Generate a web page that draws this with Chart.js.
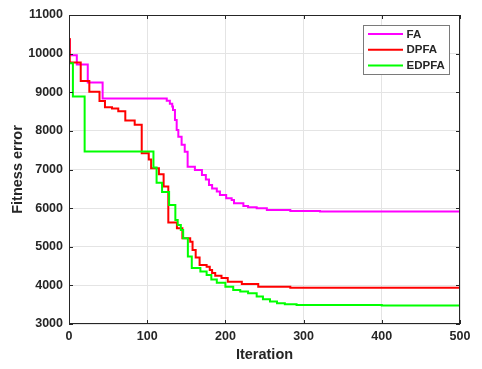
<!DOCTYPE html>
<html>
<head>
<meta charset="utf-8">
<script src="https://cdn.jsdelivr.net/npm/chart.js@4.4.0/dist/chart.umd.min.js"></script>
<style>
  html, body { margin: 0; padding: 0; background: #fff; }
  #wrap { width: 482px; height: 369px; }
</style>
</head>
<body>
<div id="wrap"><canvas id="fitnessChart" width="482" height="369"></canvas></div>
<script>
// Fitness error vs iteration

const seriesNames = ['FA', 'DPFA', 'EDPFA'];
const seriesColors = ['#ff00ff', '#ff0000', '#00ff00'];
const xTicks = [0, 100, 200, 300, 400, 500];
const yTicks = [3000, 4000, 5000, 6000, 7000, 8000, 9000, 10000, 11000];

// each point: value holds from that iteration until the next point
const faX = [0, 1, 10, 24, 43, 125, 129, 132, 133, 135.5, 137.7, 139.8, 144, 148, 151.7, 161, 170, 175, 179, 183, 189, 193, 201, 208, 211, 223, 229, 240, 253, 283, 321, 500];
const faY = [10350, 9960, 9720, 9250, 8840, 8780, 8700, 8630, 8540, 8280, 8025, 7850, 7640, 7460, 7070, 6990, 6860, 6740, 6600, 6510, 6430, 6340, 6255, 6210, 6125, 6055, 6020, 5995, 5950, 5925, 5910, 5910];

const dpfaX = [0, 1, 15, 26, 39, 46, 55, 63, 72, 84, 93, 102, 105, 115, 121, 127, 138, 145, 155, 158, 162, 167, 176, 180, 183, 187, 195, 203, 221, 242, 283, 500];
const dpfaY = [10380, 9770, 9290, 9010, 8775, 8610, 8580, 8510, 8270, 8160, 7420, 7260, 7030, 6880, 6560, 5630, 5480, 5220, 5130, 4915, 4720, 4530, 4480, 4400, 4320, 4250, 4190, 4095, 4035, 3965, 3940, 3940];

const edpfaX = [0, 5, 20, 108, 112, 119, 128, 136, 139, 143, 146, 152, 157, 168, 176, 182, 189, 200, 210, 219, 229, 240, 248, 257, 266, 276, 291, 400, 500];
const edpfaY = [9750, 8890, 7465, 7050, 6660, 6420, 6080, 5690, 5560, 5435, 5220, 4745, 4450, 4360, 4270, 4150, 4070, 3965, 3880, 3840, 3795, 3710, 3640, 3580, 3535, 3510, 3490, 3480, 3475];

const AXIS_COLOR = '#262626';
const GRID_COLOR = '#e4e4e4';
const FONT = 'Liberation Sans, Arial, sans-serif';

function toPoints(xs, ys) {
  return xs.map((x, i) => ({ x, y: ys[i] }));
}

const seriesData = [toPoints(faX, faY), toPoints(dpfaX, dpfaY), toPoints(edpfaX, edpfaY)];

// MATLAB-style box, inward ticks and boxed legend
const boxPlugin = {
  id: 'matlabBox',
  afterDraw(chart) {
    const { ctx, chartArea: a, scales } = chart;
    const line = (x1, y1, x2, y2) => { ctx.beginPath(); ctx.moveTo(x1, y1); ctx.lineTo(x2, y2); ctx.stroke(); };
    ctx.save();
    ctx.strokeStyle = AXIS_COLOR;
    ctx.lineWidth = 1;
    ctx.strokeRect(a.left + 0.5, a.top + 0.5, a.right - a.left - 1, a.bottom - a.top - 1);
    xTicks.forEach(v => {
      const px = Math.round(scales.x.getPixelForValue(v)) + 0.5;
      line(px, a.bottom, px, a.bottom - 4);
      line(px, a.top, px, a.top + 4);
    });
    yTicks.forEach(v => {
      const py = Math.round(scales.y.getPixelForValue(v)) + 0.5;
      line(a.left, py, a.left + 4, py);
      line(a.right, py, a.right - 4, py);
    });

    // legend
    const lx = 363.5, ly = 25.5, lw = 86, lh = 49;
    ctx.fillStyle = '#fff';
    ctx.fillRect(lx, ly, lw, lh);
    ctx.strokeStyle = '#7a7a7a';
    ctx.strokeRect(lx, ly, lw, lh);
    ctx.font = 'bold 11.5px ' + FONT;
    ctx.textBaseline = 'middle';
    ctx.textAlign = 'left';
    seriesNames.forEach((name, i) => {
      const yy = 34 + i * 15.8;
      ctx.strokeStyle = seriesColors[i];
      ctx.lineWidth = 2;
      line(368, yy, 403, yy);
      ctx.fillStyle = AXIS_COLOR;
      ctx.fillText(name, 406.5, yy + 0.5);
    });
    ctx.restore();
  }
};

const tickFont = { family: FONT, size: 12.5, weight: 'bold' };
const titleFont = { family: FONT, size: 14.5, weight: 'bold' };
const plainNumber = v => String(v);

new Chart(document.getElementById('fitnessChart'), {
  type: 'line',
  data: {
    datasets: seriesNames.map((name, i) => ({
      label: name,
      data: seriesData[i],
      borderColor: seriesColors[i],
      backgroundColor: seriesColors[i],
      borderWidth: 2,
      pointRadius: 0,
      stepped: true,
      fill: false,
      order: 2 - i,
    })),
  },
  options: {
    responsive: false,
    animation: false,
    devicePixelRatio: 1,
    layout: { padding: { top: 15, right: 22, left: 0, bottom: 0 } },
    plugins: { legend: { display: false }, tooltip: { enabled: false } },
    scales: {
      x: {
        type: 'linear', min: 0, max: 500,
        afterBuildTicks: s => { s.ticks = xTicks.map(v => ({ value: v })); },
        afterFit: s => { s.height = 45; },
        grid: { color: GRID_COLOR, drawTicks: false },
        border: { display: false },
        ticks: { color: AXIS_COLOR, font: tickFont, padding: 5, maxRotation: 0, callback: plainNumber },
        title: { display: true, text: 'Iteration', color: AXIS_COLOR, font: titleFont, padding: { top: 0, bottom: 5 } },
      },
      y: {
        type: 'linear', min: 3000, max: 11000,
        afterBuildTicks: s => { s.ticks = yTicks.map(v => ({ value: v })); },
        afterFit: s => { s.width = 69; },
        grid: { color: GRID_COLOR, drawTicks: false },
        border: { display: false },
        ticks: { color: AXIS_COLOR, font: tickFont, padding: 6, callback: plainNumber },
        title: { display: true, text: 'Fitness error', color: AXIS_COLOR, font: titleFont, padding: { top: 9, bottom: 0 } },
      },
    },
  },
  plugins: [boxPlugin],
});
</script>
</body>
</html>
